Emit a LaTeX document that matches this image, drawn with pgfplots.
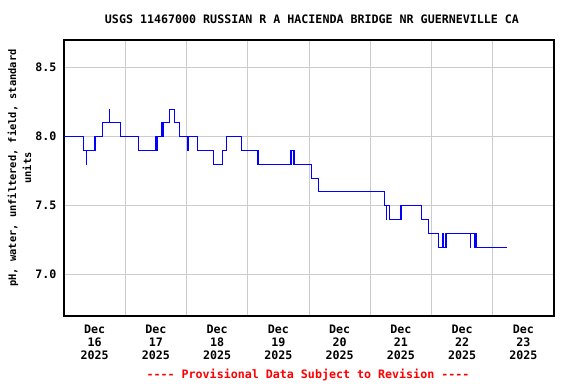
\documentclass[border=0pt]{standalone}
\usepackage{pgfplots}
\pgfplotsset{compat=1.18}
\usepackage{fontspec}
\setmainfont{DejaVu Sans Mono}
\setmonofont{DejaVu Sans Mono}
\definecolor{gridgray}{RGB}{204,204,204}
\begin{document}
\begin{tikzpicture}[font=\fontsize{11.7}{13}\selectfont\bfseries]
\useasboundingbox (-64bp,-68bp) rectangle (512bp,316bp);
\begin{axis}[
  at={(0,0)}, anchor=south west,
  scale only axis, width=490bp, height=276bp,
  xmin=0, xmax=8, ymin=6.7, ymax=8.7,
  xtick={0.5,1.5,2.5,3.5,4.5,5.5,6.5,7.5},
  xticklabels={{Dec\\16\\2025},{Dec\\17\\2025},{Dec\\18\\2025},{Dec\\19\\2025},{Dec\\20\\2025},{Dec\\21\\2025},{Dec\\22\\2025},{Dec\\23\\2025}},
  xticklabel style={align=center, anchor=center, yshift=-26bp},
  minor xtick={1,2,3,4,5,6,7},
  xminorgrids, ymajorgrids,
  ytick={7,7.5,8,8.5},
  yticklabels={7.0,7.5,8.0,8.5},
  yticklabel style={anchor=east, xshift=-4bp},
  major tick length=0pt, minor tick length=0pt,
  grid style={color=gridgray, line width=0.9bp},
  minor grid style={color=gridgray, line width=0.9bp},
  axis line style={line width=1.2bp},
  /pgf/number format/assume math mode=true,
  clip=true,
]
\addplot[const plot, color=blue, line width=1bp] coordinates {
(0.000,8.0) (0.316,7.9) (0.365,7.8) (0.375,7.9) (0.495,8.0) (0.505,7.9) (0.515,8.0)
(0.631,8.1) (0.740,8.2) (0.750,8.1) (0.925,8.0) (1.219,7.9) (1.500,8.0) (1.510,7.9)
(1.520,8.0) (1.600,8.1) (1.610,8.0) (1.620,8.1) (1.720,8.2) (1.812,8.1) (1.878,8.0)
(2.015,7.9) (2.025,8.0) (2.183,7.9) (2.433,7.8) (2.590,7.9) (2.645,8.0) (2.900,7.9)
(3.160,7.8) (3.170,7.9) (3.180,7.8) (3.700,7.9) (3.710,7.8) (3.720,7.9) (3.745,7.8)
(3.755,7.9) (3.765,7.8) (4.040,7.7) (4.150,7.6) (5.230,7.5) (5.260,7.4) (5.270,7.5)
(5.310,7.4) (5.490,7.5) (5.500,7.4) (5.510,7.5) (5.830,7.4) (5.950,7.3) (6.120,7.2)
(6.180,7.3) (6.190,7.2) (6.230,7.3) (6.240,7.2) (6.250,7.3) (6.630,7.2) (6.640,7.3)
(6.710,7.2) (6.720,7.3) (6.730,7.2) (7.230,7.2)
};
\end{axis}
\node[rotate=90, align=center, font=\fontsize{10.4}{15}\selectfont\bfseries] at (-44.5bp,148bp) {pH, water, unfiltered, field, standard\\units};
\node at (248bp,297bp) {USGS 11467000 RUSSIAN R A HACIENDA BRIDGE NR GUERNEVILLE CA};
\node[text=red] at (244bp,-59bp) {{-}{-}{-}{-} Provisional Data Subject to Revision {-}{-}{-}{-}};
\end{tikzpicture}
\end{document}
